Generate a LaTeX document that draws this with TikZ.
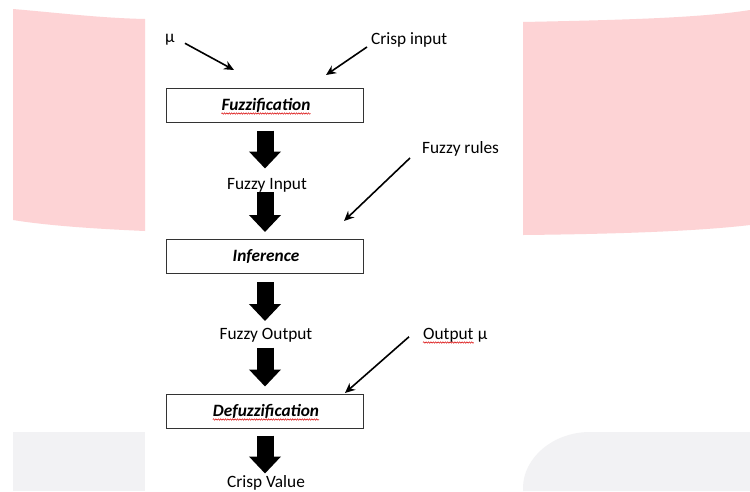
\documentclass[tikz,border=0pt]{standalone}
\usepackage{fontspec}
\setmainfont{Carlito}
\usetikzlibrary{arrows.meta,decorations.pathmorphing}
\definecolor{pinkbg}{HTML}{FDD3D5}
\definecolor{graybg}{HTML}{F2F2F4}
\definecolor{boxline}{HTML}{333333}
\begin{document}
\begin{tikzpicture}[x=1pt,y=-1pt,
  font=\fontsize{17.3}{20}\selectfont,
  box/.style={draw=boxline, line width=1pt, minimum width=197pt, minimum height=34pt, inner sep=0pt},
  lbl/.style={inner sep=0pt, anchor=base west},
  clbl/.style={inner sep=0pt, anchor=base},
  boxlbl/.style={inner sep=0pt, anchor=base, font=\fontsize{17.3}{20}\selectfont\bfseries\itshape},
  ptr/.style={draw=black, line width=1.6pt, -{Stealth[length=10pt,width=9pt]}},
  blk/.style={draw=black, line width=17pt, -{Triangle[length=17pt,width=31pt]}},
  wavy/.style={draw=red!85!black, line width=0.5pt, decorate, decoration={snake, amplitude=0.7pt, segment length=2.4pt}}
]
\useasboundingbox (0,0) rectangle (750,491);
% background
\fill[white] (0,0) rectangle (750,491);
\fill[pinkbg] (13,9) .. controls (60,13) and (100,18) .. (145,19) -- (145,231)
  .. controls (100,229) and (50,226) .. (13,220) -- cycle;
\fill[pinkbg] (523,22) .. controls (620,20) and (700,18) .. (750,10) -- (750,225)
  .. controls (700,231) and (620,234) .. (523,235) -- cycle;
\fill[graybg] (13,491) -- (13,432) -- (145,432) -- (145,491) -- cycle;
\fill[graybg] (523,491) -- (523,488) .. controls (523,458) and (553,432) .. (590,432)
  -- (750,432) -- (750,491) -- cycle;

% boxes
\node[box] (fuzbox) at (264.5,105) {};
\node[box] (infbox) at (264.5,256.5) {};
\node[box] (defbox) at (264.5,411) {};
\node[boxlbl] (fuz) at (266,110) {Fuzzification};
\node[boxlbl] (inf) at (266,261) {Inference};
\node[boxlbl] (def) at (266,416) {Defuzzification};
\draw[wavy] ([yshift=-3.5pt]fuz.base west) -- ([yshift=-3.5pt]fuz.base east);
\draw[wavy] ([yshift=-3.5pt]def.base west) -- ([yshift=-3.5pt]def.base east);

% intermediate labels
\node[clbl] (fin) at (267,189) {Fuzzy Input};
\node[clbl] (fout) at (266,339) {Fuzzy Output};
\node[clbl] (cval) at (266,487) {Crisp Value};

% side labels
\node[lbl] (mu) at (165,42) {μ};
\node[lbl] (crisp) at (371,44) {Crisp input};
\node[lbl] (rules) at (422,153) {Fuzzy rules};
\node[lbl] (out) at (423,339) {Output};
\node[lbl] (outmu) at ([xshift=4pt]out.base east) {μ};
\draw[wavy] ([yshift=-3.5pt]out.base west) -- ([yshift=-3.5pt]out.base east);

\coordinate (mutip) at (234,70);
\coordinate (crisptip) at (326,75);
\coordinate (rulestip) at (344,221);
\coordinate (outtip) at (345,393);

\draw[ptr] ([xshift=10pt,yshift=-4pt]mu.east) -- (mutip);
\draw[ptr] ([xshift=-4pt]crisp.south west) -- (crisptip);
\draw[ptr] ([xshift=-12pt,yshift=-2pt]rules.south west) -- (rulestip);
\draw[ptr] ([xshift=-14pt,yshift=-2pt]out.west) -- (outtip);

% block arrows
\draw[blk] ([xshift=0.5pt,yshift=-8pt]fuzbox.south) -- ([xshift=0.5pt,yshift=-46pt]fuzbox.south);
\draw[blk] ([xshift=0.5pt,yshift=47pt]infbox.north) -- ([xshift=0.5pt,yshift=7pt]infbox.north);
\draw[blk] ([xshift=0.5pt,yshift=-8pt]infbox.south) -- ([xshift=0.5pt,yshift=-47pt]infbox.south);
\draw[blk] ([xshift=0.5pt,yshift=46pt]defbox.north) -- ([xshift=0.5pt,yshift=7pt]defbox.north);
\draw[blk] ([xshift=0.5pt,yshift=-7pt]defbox.south) -- ([xshift=0.5pt,yshift=-45pt]defbox.south);
\end{tikzpicture}
\end{document}
